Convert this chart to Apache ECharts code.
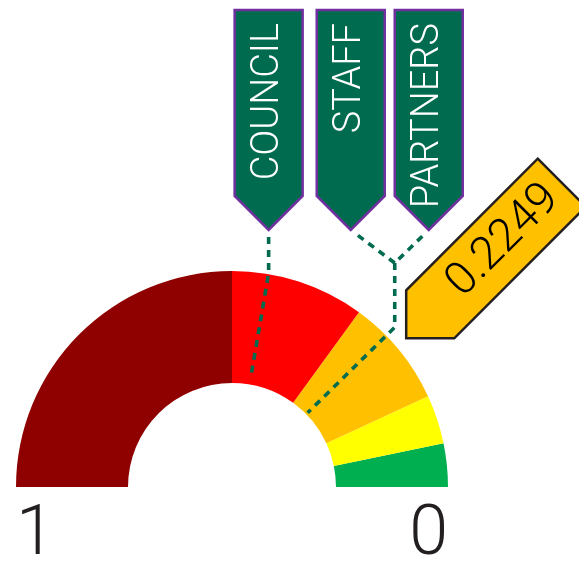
<!DOCTYPE html>
<html><head><meta charset="utf-8">
<script src="https://cdn.jsdelivr.net/npm/echarts@6/dist/echarts.min.js"></script>
<style>html,body{margin:0;padding:0;background:#fff}#c{width:579px;height:565px}</style>
</head><body><div id="c"></div>
<script>
// ---- data ----
const scaleTicks = [1, 0];
const scaleTickLabels = ['1', '0'];
const bandLower = [0.5, 0.3, 0.138, 0.065, 0];
const bandColors = ['#8f0000', '#ff0000', '#ffc000', '#ffff00', '#00b050'];
const groupNames = [['COUNCIL'], ['STAFF', 'PARTNERS']];
const groupValues = [0.446, 0.247];
const scoreLabel = '0.2249';
const scoreValue = 0.2249;

// ---- layout / style ----
const CENTER = [232, 487];
const R_OUT = 216, R_IN = 104;
const GREEN = '#006b4f', PURPLE = '#7030a0', GOLD = '#ffc000', INK = '#231f20';
const TIP_Y = 230, JOIN_Y = 263, BANNER_STEP = 78, GROUP_SHIFT = -5;
const GROUP_RADII = [{bend: 217, inner: 110}, {bend: 228, inner: 106}];
const SCORE_R = 229;
const FONT = 'Roboto';
const TICK_GAP = 14;

function banner(x, y, rot, text, fill, stroke, color, size) {
  return {
    type: 'group', x: x, y: y, rotation: rot,
    children: [
      {type: 'polygon', shape: {points: [[-34, -220], [34, -220], [34, -34], [0, 0], [-34, -34]]},
       style: {fill: fill, stroke: stroke, lineWidth: 2.5}},
      {type: 'text', x: 0, y: -207, rotation: Math.PI / 2,
       style: {text: text, fill: color, fontFamily: FONT, fontWeight: 300, fontSize: size,
               align: 'right', verticalAlign: 'middle'}}
    ]
  };
}
function dashed(points) {
  return {type: 'polyline', shape: {points: points},
          style: {stroke: GREEN, lineWidth: 3.6, lineDash: [7, 6], fill: null}};
}

const chart = echarts.init(document.getElementById('c'), null, {renderer: 'canvas'});
chart.setOption({
  animation: false,
  backgroundColor: '#ffffff',
  polar: {center: CENTER, radius: R_OUT},
  angleAxis: {type: 'value', min: 0, max: 2, startAngle: 0, clockwise: false, show: false},
  radiusAxis: {type: 'value', min: 0, max: R_OUT, show: false},
  series: [
    {
      type: 'gauge', center: CENTER, radius: R_OUT, startAngle: 180, endAngle: 0,
      min: 0, max: 1,
      axisLine: {lineStyle: {width: R_OUT - R_IN,
        color: bandLower.map((v, i) => [1 - v, bandColors[i]])}},
      pointer: {show: false}, axisTick: {show: false}, splitLine: {show: false},
      axisLabel: {show: false}, detail: {show: false}, title: {show: false},
      data: []
    },
    {
      // scale end labels "1" / "0", placed at the ring's outer ends
      type: 'custom', coordinateSystem: 'polar', z: 4,
      dimensions: ['radius', 'angle'], encode: {radius: 0, angle: 1},
      data: scaleTicks.map(t => [R_OUT, t]),
      renderItem: function (params, api) {
        const p = api.coord([api.value(0), api.value(1)]);
        const i = params.dataIndex;
        return {
          type: 'text', x: p[0], y: p[1] + TICK_GAP,
          style: {text: scaleTickLabels[i], fill: INK, fontFamily: FONT, fontWeight: 300,
                  fontSize: 70, align: api.value(1) > 0.5 ? 'left' : 'right', verticalAlign: 'top'}
        };
      }
    },
    {
      type: 'custom', coordinateSystem: 'polar', z: 5,
      dimensions: ['radius', 'angle'], encode: {radius: 0, angle: 1},
      data: groupValues.map(v => [R_OUT, v]),
      renderItem: function (params, api) {
        const i = params.dataIndex;
        const v = api.value(1);
        const L = GROUP_RADII[i];
        const bend = api.coord([L.bend, v]);
        const inner = api.coord([L.inner, v]);
        const names = groupNames[i];
        const children = [];
        if (names.length === 1) {
          children.push(dashed([[bend[0], TIP_Y + 7], bend, inner]));
          children.push(banner(bend[0], TIP_Y, 0, names[0], GREEN, PURPLE, '#ffffff', 38));
        } else {
          const join = [bend[0], JOIN_Y];
          names.forEach((n, k) => {
            const tx = bend[0] + (k - (names.length - 1) / 2) * BANNER_STEP + GROUP_SHIFT;
            const dx = join[0] - tx, dy = join[1] - TIP_Y, len = Math.hypot(dx, dy);
            children.push(dashed([[tx + dx / len * 9, TIP_Y + dy / len * 9], join]));
            children.push(banner(tx, TIP_Y, 0, n, GREEN, PURPLE, '#ffffff', 38));
          });
          children.push(dashed([join, bend, inner]));
        }
        return {type: 'group', children: children};
      }
    },
    {
      type: 'custom', coordinateSystem: 'polar', z: 6,
      dimensions: ['radius', 'angle'], encode: {radius: 0, angle: 1},
      data: [[SCORE_R, scoreValue]],
      renderItem: function (params, api) {
        const tip = api.coord([api.value(0), api.value(1)]);
        return banner(tip[0], tip[1], -Math.PI / 4, scoreLabel, GOLD, INK, '#000000', 46);
      }
    }
  ]
});
</script></body></html>
